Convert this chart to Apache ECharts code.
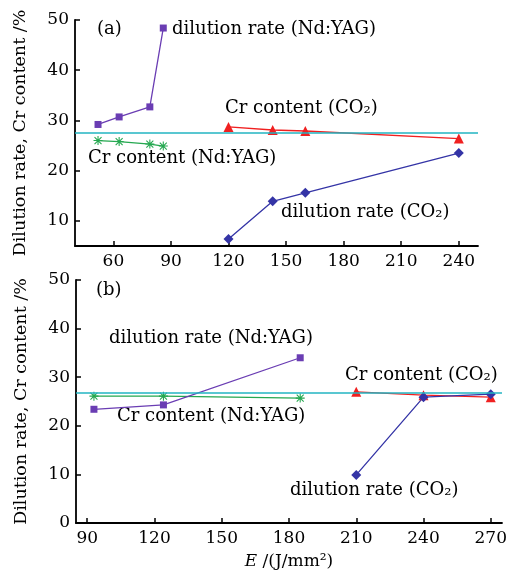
<!DOCTYPE html>
<html>
<head>
<meta charset="utf-8">
<script src="https://cdn.jsdelivr.net/npm/echarts@6/dist/echarts.min.js"></script>
<style>html,body{margin:0;padding:0;background:#fff}#c{width:510px;height:572px}</style>
</head>
<body>
<div id="c"></div>
<script>
// Panel (a)
const aYagE = [52, 63, 79, 86];
const aYagDil = [29.2, 30.7, 32.7, 48.4];
const aYagCr = [26.0, 25.8, 25.3, 24.9];
const aCo2E = [120, 143, 160, 240];
const aCo2Cr = [28.7, 28.1, 27.9, 26.4];
const aCo2Dil = [6.4, 13.9, 15.6, 23.5];
const aRef = 27.5;
const aXTicks = [60, 90, 120, 150, 180, 210, 240];
const aYTicks = [10, 20, 30, 40, 50];
// Panel (b)
const bYagE = [93, 124, 185];
const bYagDil = [23.4, 24.3, 34.0];
const bYagCr = [26.1, 26.1, 25.7];
const bCo2E = [210, 240, 270];
const bCo2Cr = [27.0, 26.3, 25.9];
const bCo2Dil = [9.9, 25.9, 26.5];
const bRef = 26.8;
const bXTicks = [90, 120, 150, 180, 210, 240, 270];
const bYTicks = [0, 10, 20, 30, 40, 50];

const FONT = 'DejaVu Serif';
const C_PUR = '#6a3db3', C_GRN = '#25a850', C_RED = '#f02020', C_BLU = '#3434a6', C_CYAN = '#22b4c2';
const ASTER = 'path://M0 8.8H20V11.2H0Z M8.8 0H11.2V20H8.8Z M1.4 3.1L3.1 1.4L18.6 16.9L16.9 18.6Z M16.9 1.4L18.6 3.1L3.1 18.6L1.4 16.9Z';

const zip = (xs, ys) => xs.map((x, i) => [x, ys[i]]);
const axisLine = {show: true, onZero: false, lineStyle: {color: '#000', width: 1.8}};
const tick = {show: true, inside: true, length: 5, lineStyle: {color: '#000', width: 1.5}};
const lbl = {color: '#000', fontFamily: FONT, fontSize: 17};

function xAx(idx, min, max, ticks, name) {
  return {type: 'value', gridIndex: idx, min, max, axisLine,
    axisTick: Object.assign({customValues: ticks}, tick),
    axisLabel: Object.assign({customValues: ticks, margin: 7}, lbl),
    splitLine: {show: false},
    name: name || '', nameLocation: 'middle', nameGap: 30,
    nameTextStyle: {color: '#000', fontFamily: FONT, fontSize: 17,
      rich: {i: {fontStyle: 'italic', fontFamily: FONT, fontSize: 17, color: '#000'}}}};
}
function yAx(idx, min, max, ticks) {
  return {type: 'value', gridIndex: idx, min, max, axisLine,
    axisTick: Object.assign({customValues: ticks}, tick),
    axisLabel: Object.assign({customValues: ticks, margin: 6}, lbl),
    splitLine: {show: false},
    name: 'Dilution rate, Cr content /%', nameLocation: 'middle', nameGap: 46, nameRotate: 90,
    nameTextStyle: {color: '#000', fontFamily: FONT, fontSize: 17.5}};
}
function ser(idx, data, color, symbol, size, ref) {
  const s = {type: 'line', xAxisIndex: idx, yAxisIndex: idx, data, symbol, symbolSize: size,
    showAllSymbol: true, lineStyle: {color, width: 1.3}, itemStyle: {color},
    emphasis: {disabled: true}, animation: false, z: 3};
  if (ref !== undefined) {
    s.markLine = {silent: true, symbol: 'none', label: {show: false},
      lineStyle: {color: C_CYAN, width: 1.6, type: 'solid'}, data: [{yAxis: ref}], animation: false};
  }
  return s;
}
function txt(x, cy, t) {
  return {type: 'text', left: x, top: cy - 11, silent: true,
    style: {text: t, fill: '#000', font: '18px "' + FONT + '"'}};
}

const chart = echarts.init(document.getElementById('c'));
chart.setOption({
  animation: false,
  grid: [
    {left: 75, top: 20, width: 403, height: 226},
    {left: 76, top: 280, width: 426, height: 243}
  ],
  xAxis: [xAx(0, 40, 250, aXTicks), xAx(1, 85, 275, bXTicks, '{i|E} /(J/mm²)')],
  yAxis: [yAx(0, 5, 50, aYTicks), yAx(1, 0, 50, bYTicks)],
  series: [
    ser(0, zip(aYagE, aYagDil), C_PUR, 'rect', 7, aRef),
    ser(0, zip(aYagE, aYagCr), C_GRN, ASTER, 9),
    ser(0, zip(aCo2E, aCo2Cr), C_RED, 'triangle', 10),
    ser(0, zip(aCo2E, aCo2Dil), C_BLU, 'diamond', 10),
    ser(1, zip(bYagE, bYagCr), C_GRN, ASTER, 9, bRef),
    ser(1, zip(bYagE, bYagDil), C_PUR, 'rect', 7),
    ser(1, zip(bCo2E, bCo2Cr), C_RED, 'triangle', 10),
    ser(1, zip(bCo2E, bCo2Dil), C_BLU, 'diamond', 10)
  ],
  graphic: [
    txt(97, 31, '(a)'),
    txt(172, 31, 'dilution rate (Nd:YAG)'),
    txt(225, 110, 'Cr content (CO₂)'),
    txt(88, 160, 'Cr content (Nd:YAG)'),
    txt(281, 214, 'dilution rate (CO₂)'),
    txt(96, 292, '(b)'),
    txt(109, 340, 'dilution rate (Nd:YAG)'),
    txt(117, 418, 'Cr content (Nd:YAG)'),
    txt(345, 377, 'Cr content (CO₂)'),
    txt(290, 492, 'dilution rate (CO₂)')
  ]
});
</script>
</body>
</html>
